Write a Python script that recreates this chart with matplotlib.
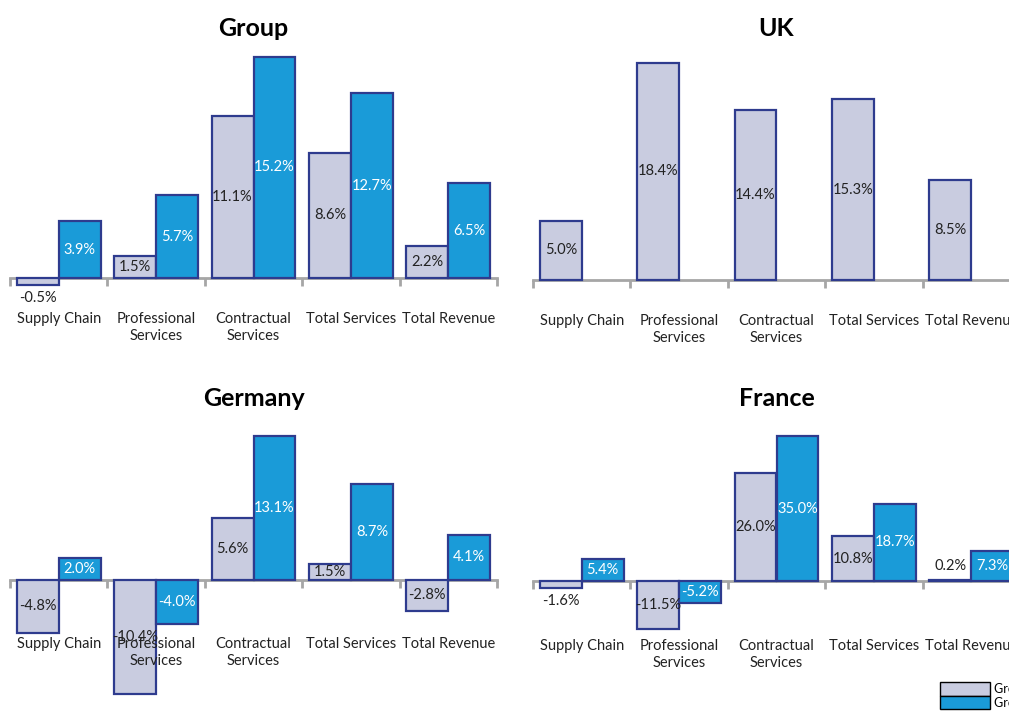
import numpy as np
import matplotlib.pyplot as plt
from matplotlib.patches import Patch

plt.rcParams['font.family'] = ['Lato', 'DejaVu Sans']

# data (growth %)
categories = ["Supply Chain", "Professional\nServices", "Contractual\nServices",
              "Total Services", "Total Revenue"]
group_a = [-0.5, 1.5, 11.1, 8.6, 2.2]
group_b = [3.9, 5.7, 15.2, 12.7, 6.5]
uk_a = [5.0, 18.4, 14.4, 15.3, 8.5]
germany_a = [-4.8, -10.4, 5.6, 1.5, -2.8]
germany_b = [2.0, -4.0, 13.1, 8.7, 4.1]
france_a = [-1.6, -11.5, 26.0, 10.8, 0.2]
france_b = [5.4, -5.2, 35.0, 18.7, 7.3]
legend_labels = ["Growth H1", "Growth H2"]

LIGHT = '#C9CCE0'
BLUE = '#1A9BD8'
EDGE = '#2E3B8E'
AXIS = '#A6A6A6'

W, H = 1009, 713
fig = plt.figure(figsize=(W / 100, H / 100), dpi=100)

# panel layout in pixels: title, title y, x0, x1, zero line, px per %, label offset
panels = [
    ("Group", 27, 10, 497, 278, 14.55, 34, group_a, group_b),
    ("UK", 27, 533, 1020, 280, 11.8, 34, uk_a, None),
    ("Germany", 398, 10, 497, 580, 11.0, 57, germany_a, germany_b),
    ("France", 398, 533, 1020, 581, 4.14, 58, france_a, france_b),
]

x = np.arange(len(categories))
bw = 0.43


def bar_labels(ax, bars, vals, scale, color):
    for b, v in zip(bars, vals):
        cx = b.get_x() + b.get_width() / 2
        txt = f"{v:.1f}%"
        if abs(v) * scale < 12:
            off = 14 if v >= 0 else -13
            ax.annotate(txt, (cx, v), xytext=(0, off), textcoords='offset pixels',
                        ha='center', va='center', fontsize=10.5, color='#222222')
        else:
            ax.text(cx, v / 2, txt, ha='center', va='center', fontsize=10.5, color=color)


for title, ty, x0, x1, zero, s, loff, a, b in panels:
    top, bot = zero - 240, zero + 40
    ax = fig.add_axes([x0 / W, (H - bot) / H, (x1 - x0) / W, (bot - top) / H])
    ax.set_xlim(-0.5, len(categories) - 0.5)
    ax.set_ylim((zero - bot) / s, (zero - top) / s)
    ax.patch.set_visible(False)
    for sp in ['top', 'right', 'left']:
        ax.spines[sp].set_visible(False)
    ax.spines['bottom'].set_position(('data', 0))
    ax.spines['bottom'].set_color(AXIS)
    ax.spines['bottom'].set_linewidth(2)
    ax.spines['bottom'].set_zorder(1)
    ax.set_yticks([])
    ax.set_xticks(np.arange(-0.5, len(categories)))
    ax.set_xticklabels([])
    ax.tick_params(axis='x', direction='out', length=6, width=2, color=AXIS)

    ba = ax.bar(x - bw / 2, a, bw, color=LIGHT, edgecolor=EDGE, linewidth=1.6,
                clip_on=False, zorder=2)
    bar_labels(ax, ba, a, s, '#222222')
    if b is not None:
        bb = ax.bar(x + bw / 2, b, bw, color=BLUE, edgecolor=EDGE, linewidth=1.6,
                    clip_on=False, zorder=2)
        bar_labels(ax, bb, b, s, 'white')

    for xi, cat in zip(x, categories):
        ax.annotate(cat, (xi, 0), xytext=(0, -loff), textcoords='offset pixels',
                    ha='center', va='top', fontsize=10.5, linespacing=1.3,
                    color='#222222', zorder=4, annotation_clip=False)

    fig.text((x0 + x1) / 2 / W, 1 - (ty + 1) / H, title, ha='center', va='center',
             fontsize=18, fontweight='bold')

handles = [Patch(facecolor=LIGHT, edgecolor='black', linewidth=1),
           Patch(facecolor=BLUE, edgecolor='black', linewidth=1)]
fig.legend(handles, legend_labels, loc='upper left',
           bbox_to_anchor=(940 / W, 1 - 682 / H), frameon=False, fontsize=9,
           handlelength=4.0, handleheight=1.3, labelspacing=0, borderpad=0,
           borderaxespad=0, handletextpad=0.3)

fig.savefig('out.png', dpi=100)
